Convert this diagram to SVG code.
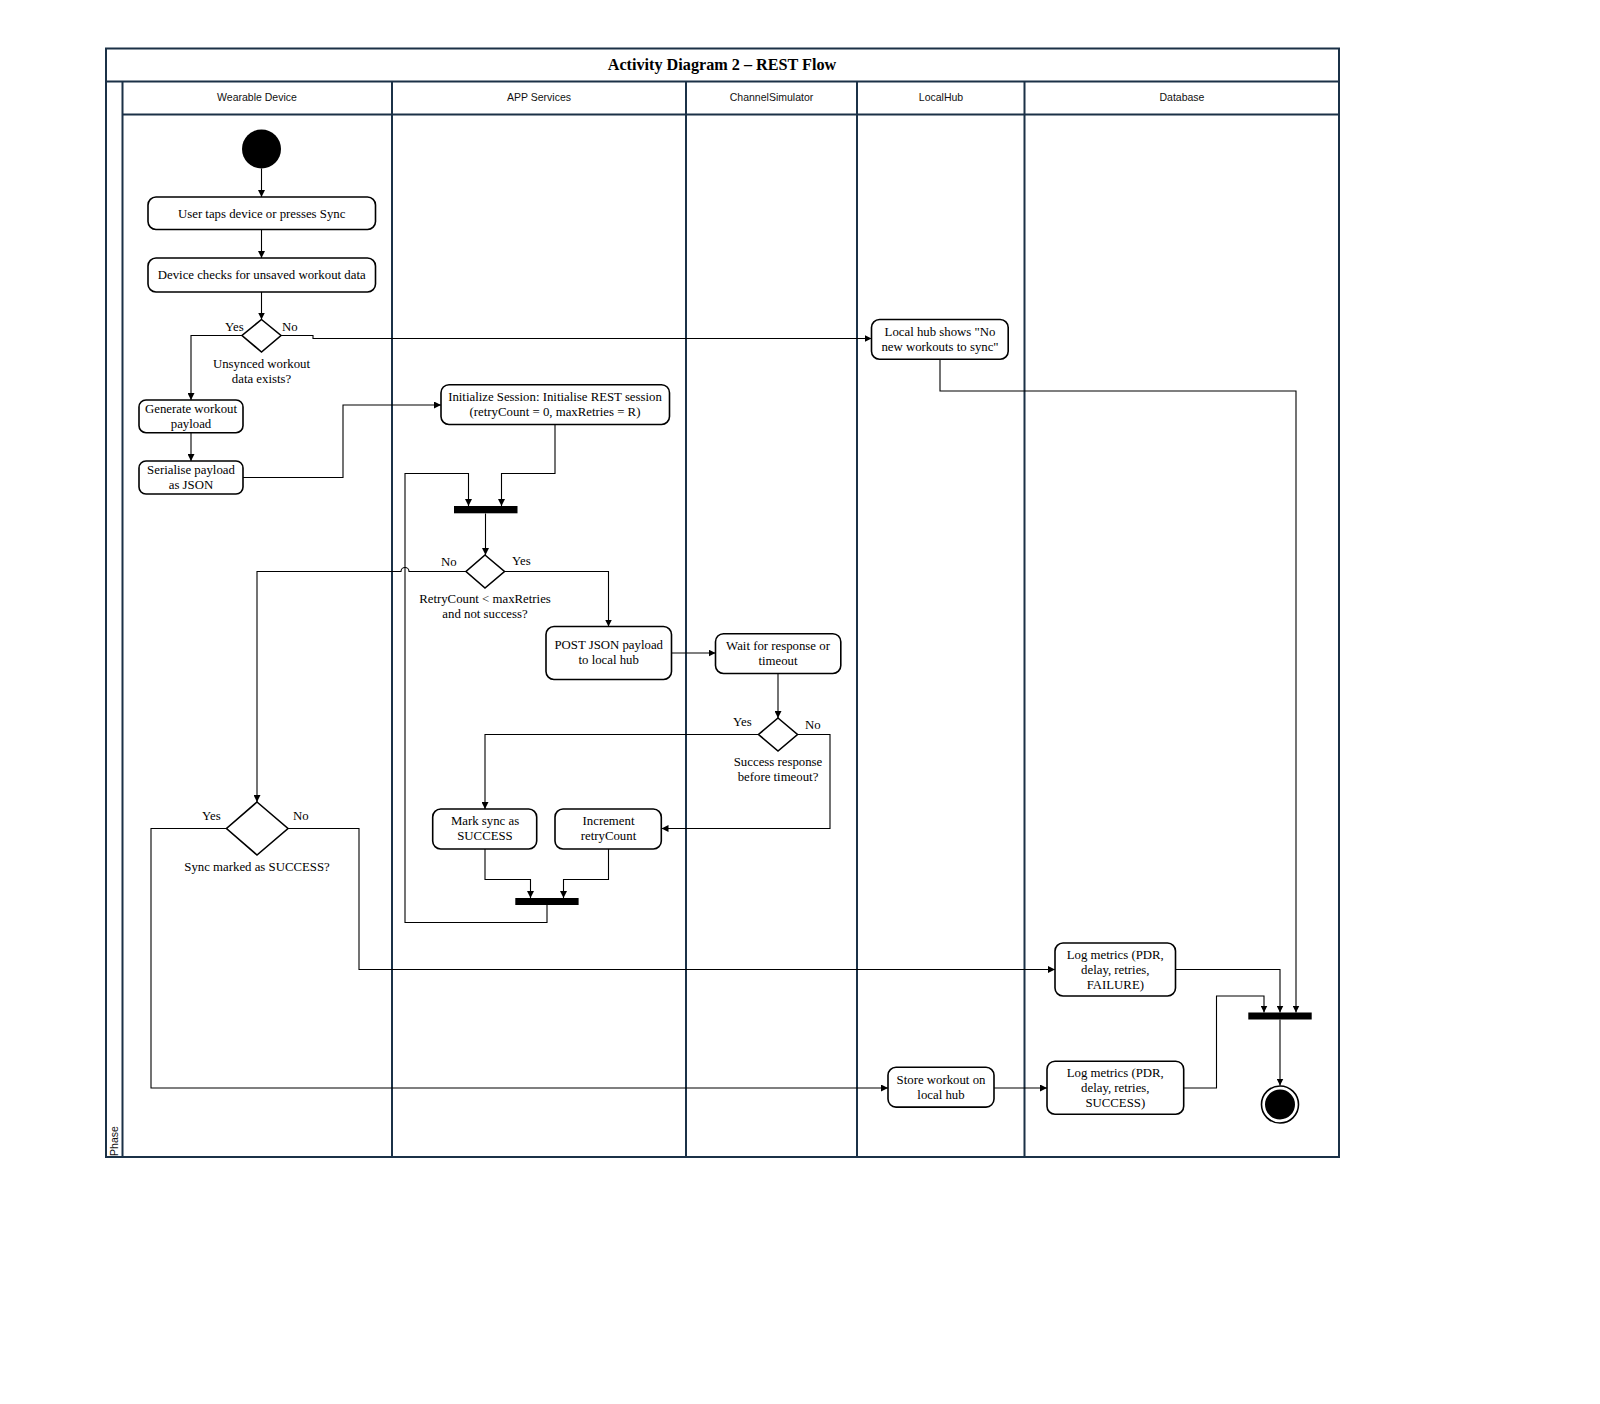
<svg xmlns="http://www.w3.org/2000/svg" width="1600" height="1404" viewBox="0 0 1600 1404">
<defs>
<marker id="arr" viewBox="0 0 10 10" refX="10" refY="5" markerWidth="7" markerHeight="7" markerUnits="userSpaceOnUse" orient="auto">
<path d="M0,0 L10,5 L0,10 z" fill="#000"/>
</marker>
</defs>
<style>
.frame{fill:none;stroke:#1b3147;stroke-width:2}
.lane{stroke:#1b3147;stroke-width:2}
.hdr{font-family:"Liberation Sans",Arial,sans-serif;font-size:10.5px;fill:#111;text-anchor:middle}
.title{font-family:"Liberation Serif","Times New Roman",serif;font-size:16.2px;font-weight:bold;fill:#000;text-anchor:middle}
.act{fill:#fff;stroke:#000;stroke-width:1.6}
.t{font-family:"Liberation Serif","Times New Roman",serif;font-size:12.8px;fill:#000;text-anchor:middle}
.lbl{font-family:"Liberation Serif","Times New Roman",serif;font-size:12.8px;fill:#000}
.dec{fill:#fff;stroke:#000;stroke-width:1.6}
.bar{fill:#000}
.c{fill:none;stroke:#000;stroke-width:1.1}
.ca{fill:none;stroke:#000;stroke-width:1.1;marker-end:url(#arr)}
</style>
<rect width="1600" height="1404" fill="#fff"/>
<g id="swimlanes">
<rect class="frame" x="106" y="48.5" width="1233" height="1108.5"/>
<line class="lane" x1="106" y1="81.5" x2="1339" y2="81.5"/>
<line class="lane" x1="122.5" y1="114.5" x2="1339" y2="114.5"/>
<line class="lane" x1="122.5" y1="81.5" x2="122.5" y2="1157"/>
<line class="lane" x1="392" y1="81.5" x2="392" y2="1157"/>
<line class="lane" x1="686" y1="81.5" x2="686" y2="1157"/>
<line class="lane" x1="857" y1="81.5" x2="857" y2="1157"/>
<line class="lane" x1="1024.5" y1="81.5" x2="1024.5" y2="1157"/>
<text class="title" x="722" y="70">Activity Diagram 2 – REST Flow</text>
<text class="hdr" x="257" y="101">Wearable Device</text>
<text class="hdr" x="539" y="101">APP Services</text>
<text class="hdr" x="771.5" y="101">ChannelSimulator</text>
<text class="hdr" x="941" y="101">LocalHub</text>
<text class="hdr" x="1182" y="101">Database</text>
<text class="hdr" x="0" y="0" transform="translate(118,1141) rotate(-90)" style="text-anchor:middle">Phase</text>
</g>
<g id="connectors">
<path class="ca" d="M261.5,168.5 L261.5,197"/>
<path class="ca" d="M261.5,229.5 L261.5,258"/>
<path class="ca" d="M261.5,292 L261.5,319.5"/>
<path class="ca" d="M242,335.5 L191,335.5 L191,400"/>
<path class="ca" d="M281,335.5 L313,335.5 L313,338.5 L871.5,338.5"/>
<path class="ca" d="M191,433 L191,461"/>
<path class="ca" d="M243,477.5 L343,477.5 L343,405 L441,405"/>
<path class="ca" d="M940,359 L940,391 L1296,391 L1296,1012.5"/>
<path class="ca" d="M555,424.5 L555,473.5 L501.5,473.5 L501.5,506"/>
<path class="ca" d="M547,905 L547,922.5 L405,922.5 L405,473.5 L468.5,473.5 L468.5,506"/>
<path class="ca" d="M485.5,513.5 L485.5,555"/>
<path class="ca" d="M504.5,571.5 L608.5,571.5 L608.5,626.5"/>
<path class="ca" d="M466,571.5 L409,571.5 A4,4 0 0 0 401,571.5 L257,571.5 L257,802"/>
<path class="ca" d="M671.5,653 L715.5,653"/>
<path class="ca" d="M778,673.5 L778,718"/>
<path class="ca" d="M758.5,734.5 L485,734.5 L485,809"/>
<path class="ca" d="M797.5,734.5 L830,734.5 L830,828.5 L661.5,828.5"/>
<path class="ca" d="M485,849 L485,879.5 L530.5,879.5 L530.5,898"/>
<path class="ca" d="M608.5,849 L608.5,879.5 L563.5,879.5 L563.5,898"/>
<path class="ca" d="M226.5,828.5 L151,828.5 L151,1088 L888,1088"/>
<path class="ca" d="M288,828.5 L359,828.5 L359,969.5 L1055,969.5"/>
<path class="ca" d="M1175.5,969.5 L1280,969.5 L1280,1012.5"/>
<path class="ca" d="M994,1088 L1047,1088"/>
<path class="ca" d="M1184,1088 L1216.5,1088 L1216.5,996 L1264,996 L1264,1012.5"/>
<path class="ca" d="M1280,1019.5 L1280,1085.5"/>
</g>
<g id="start"><circle cx="261.5" cy="149" r="19.5" fill="#000"/></g>
<g id="n-user-taps"><rect class="act" x="148" y="197" width="227.5" height="32.5" rx="8"/><text class="t" x="261.7" y="217.5">User taps device or presses Sync</text></g>
<g id="n-device-checks"><rect class="act" x="148" y="258" width="227.5" height="34" rx="8"/><text class="t" x="261.7" y="279">Device checks for unsaved workout data</text></g>
<g id="d-unsynced"><path class="dec" d="M261.5,319.5 L281,335.5 L261.5,352 L242,335.5 z"/>
<text class="lbl" x="225" y="331">Yes</text><text class="lbl" x="282" y="331">No</text>
<text class="t" x="261.5" y="368">Unsynced workout</text><text class="t" x="261.5" y="383">data exists?</text></g>
<g id="n-generate"><rect class="act" x="139" y="400" width="104" height="32.7" rx="7"/><text class="t" x="191" y="413">Generate workout</text><text class="t" x="191" y="428">payload</text></g>
<g id="n-serialise"><rect class="act" x="139" y="461" width="104" height="33" rx="7"/><text class="t" x="191" y="474">Serialise payload</text><text class="t" x="191" y="489">as JSON</text></g>
<g id="n-localhub-none"><rect class="act" x="871.5" y="319.5" width="136.7" height="39.7" rx="8"/><text class="t" x="940" y="336">Local hub shows "No</text><text class="t" x="940" y="351">new workouts to sync"</text></g>
<g id="n-init"><rect class="act" x="441" y="384.7" width="228.5" height="39.8" rx="8"/><text class="t" x="555" y="401">Initialize Session: Initialise REST session</text><text class="t" x="555" y="416">(retryCount = 0, maxRetries = R)</text></g>
<g id="bar-1"><rect class="bar" x="454" y="506" width="63.5" height="7.3"/></g>
<g id="d-retry"><path class="dec" d="M485,555 L504.5,571.5 L485,588 L466,571.5 z"/>
<text class="lbl" x="441" y="566">No</text><text class="lbl" x="512" y="565">Yes</text>
<text class="t" x="485" y="603">RetryCount &lt; maxRetries</text><text class="t" x="485" y="618">and not success?</text></g>
<g id="n-post"><rect class="act" x="546" y="626.5" width="125.5" height="53" rx="8"/><text class="t" x="608.7" y="649">POST JSON payload</text><text class="t" x="608.7" y="664">to local hub</text></g>
<g id="n-wait"><rect class="act" x="715.5" y="633.7" width="125.3" height="39.8" rx="8"/><text class="t" x="778" y="650">Wait for response or</text><text class="t" x="778" y="665">timeout</text></g>
<g id="d-success-resp"><path class="dec" d="M778,718 L797.5,734.5 L778,751 L758.5,734.5 z"/>
<text class="lbl" x="733" y="726">Yes</text><text class="lbl" x="805" y="729">No</text>
<text class="t" x="778" y="766">Success response</text><text class="t" x="778" y="781">before timeout?</text></g>
<g id="n-mark"><rect class="act" x="432.7" y="809" width="104" height="40" rx="8"/><text class="t" x="485" y="825">Mark sync as</text><text class="t" x="485" y="840">SUCCESS</text></g>
<g id="n-increment"><rect class="act" x="555" y="809" width="106.3" height="40" rx="8"/><text class="t" x="608.5" y="825">Increment</text><text class="t" x="608.5" y="840">retryCount</text></g>
<g id="bar-2"><rect class="bar" x="515.3" y="898" width="63.3" height="7"/></g>
<g id="d-sync-success"><path class="dec" d="M257,802 L288,828.5 L257,855 L226.5,828.5 z"/>
<text class="lbl" x="202" y="820">Yes</text><text class="lbl" x="293" y="820">No</text>
<text class="t" x="257" y="871">Sync marked as SUCCESS?</text></g>
<g id="n-log-failure"><rect class="act" x="1055" y="943" width="120.5" height="53" rx="8"/><text class="t" x="1115.3" y="959">Log metrics (PDR,</text><text class="t" x="1115.3" y="974">delay, retries,</text><text class="t" x="1115.3" y="989">FAILURE)</text></g>
<g id="n-store"><rect class="act" x="888" y="1067.3" width="106" height="39.8" rx="8"/><text class="t" x="941" y="1084">Store workout on</text><text class="t" x="941" y="1099">local hub</text></g>
<g id="n-log-success"><rect class="act" x="1047" y="1061.2" width="136.7" height="53" rx="8"/><text class="t" x="1115.3" y="1077">Log metrics (PDR,</text><text class="t" x="1115.3" y="1092">delay, retries,</text><text class="t" x="1115.3" y="1107">SUCCESS)</text></g>
<g id="bar-3"><rect class="bar" x="1248.3" y="1012.5" width="63.4" height="7"/></g>
<g id="end"><circle cx="1280" cy="1104.5" r="18.5" fill="#fff" stroke="#000" stroke-width="1.6"/><circle cx="1280" cy="1104.5" r="15" fill="#000"/></g>
</svg>
